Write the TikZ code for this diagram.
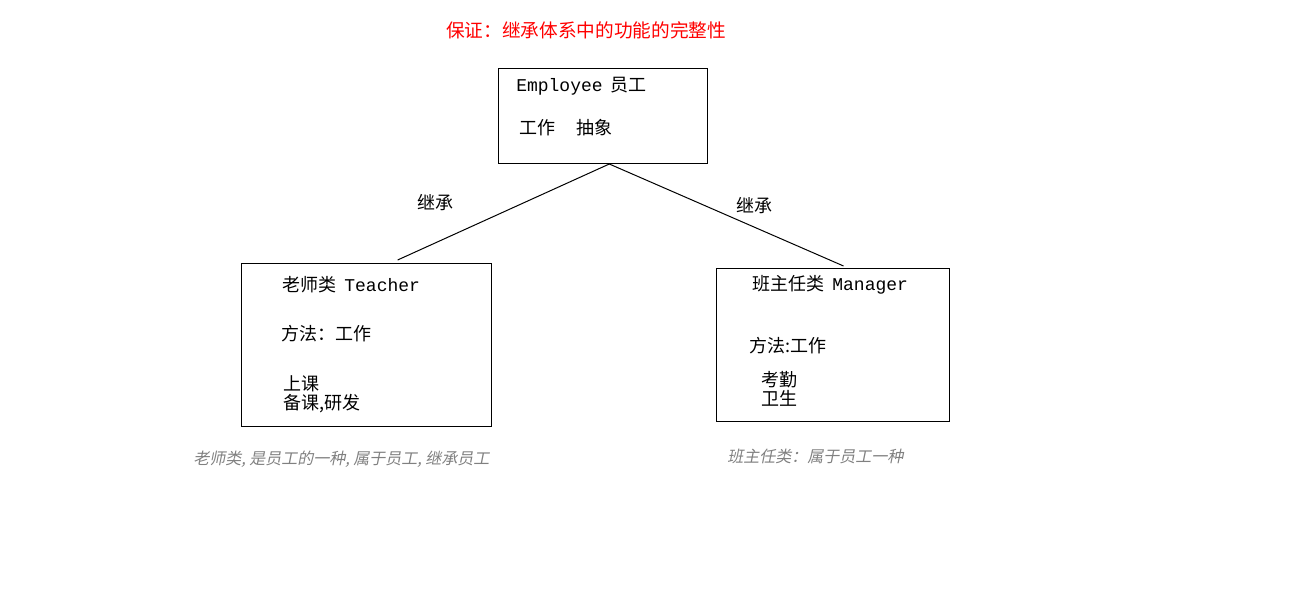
\documentclass[tikz,border=0pt]{standalone}
\usepackage{fontspec}
\setmainfont{Noto Sans CJK SC}
\setmonofont{Liberation Mono}
\newfontfamily\cjkslant[FakeSlant=0.2]{Noto Sans CJK SC}
\usepackage{tikz}
\usetikzlibrary{calc}
\usetikzlibrary{positioning}
\tikzset{>=latex}
\tikzstyle{cls} = [rectangle, draw=black, line width = 0.75pt, inner sep = 0, anchor = north west]
\tikzstyle{txt} = [draw=none, inner sep = 0, anchor = west, font=\fontsize{13.5}{14.5}\selectfont]
\tikzstyle{note} = [draw=none, inner sep = 0, anchor = west, text=gray, font=\fontsize{12}{13}\cjkslant]

\begin{document}
\begin{tikzpicture}[x=0.75pt, y=-0.75pt]
\useasboundingbox (0,0) rectangle (1299,603);
\node [txt, text=red, anchor=center, font=\fontsize{14}{15}\selectfont] (title) at (586, 30) {保证：继承体系中的功能的完整性};
%classes
\node [cls, minimum width = 156.75pt, minimum height = 71.25pt] (emp) at (498, 68) {};
\node [cls, minimum width = 187.5pt, minimum height = 122.25pt] (tch) at (241, 263) {};
\node [cls, minimum width = 174.75pt, minimum height = 114.75pt] (mgr) at (716, 268) {};
\node [txt] (empname) at (516, 86) {\texttt{Employee}\hspace{0.45em}员工};
\node [txt] (empwork) at (519, 128) {工作\hspace{1.2em}抽象};
\node [txt] (tchname) at (282, 285) {老师类\hspace{0.45em}\texttt{Teacher}};
\node [txt] (tchwork) at (281, 334) {方法：工作};
\node [txt, align=left] (tchjob) at (283, 394) {上课\\备课,研发};
\node [txt] (mgrname) at (752, 285) {班主任类\hspace{0.45em}\texttt{Manager}};
\node [txt] (mgrwork) at (749, 346) {方法:工作};
\node [txt, align=left] (mgrjob) at (761, 389) {考勤\\卫生};
%inheritance
\coordinate (root) at ($(emp.south west)!0.53!(emp.south east)$);
\draw [-, line width = 0.75pt] (root) to ($(tch.north west)!0.624!(tch.north east) + (0,-3)$);
\draw [-, line width = 0.75pt] (root) to ($(mgr.north west)!0.545!(mgr.north east) + (0,-2)$);
\node [txt, anchor=center] (inh1) at (435, 203) {继承};
\node [txt, anchor=center] (inh2) at (754, 206) {继承};
\node [note] (tchnote) at (193, 459) {老师类, 是员工的一种, 属于员工, 继承员工};
\node [note] (mgrnote) at (727, 456) {班主任类：属于员工一种};
\end{tikzpicture}
\end{document}
